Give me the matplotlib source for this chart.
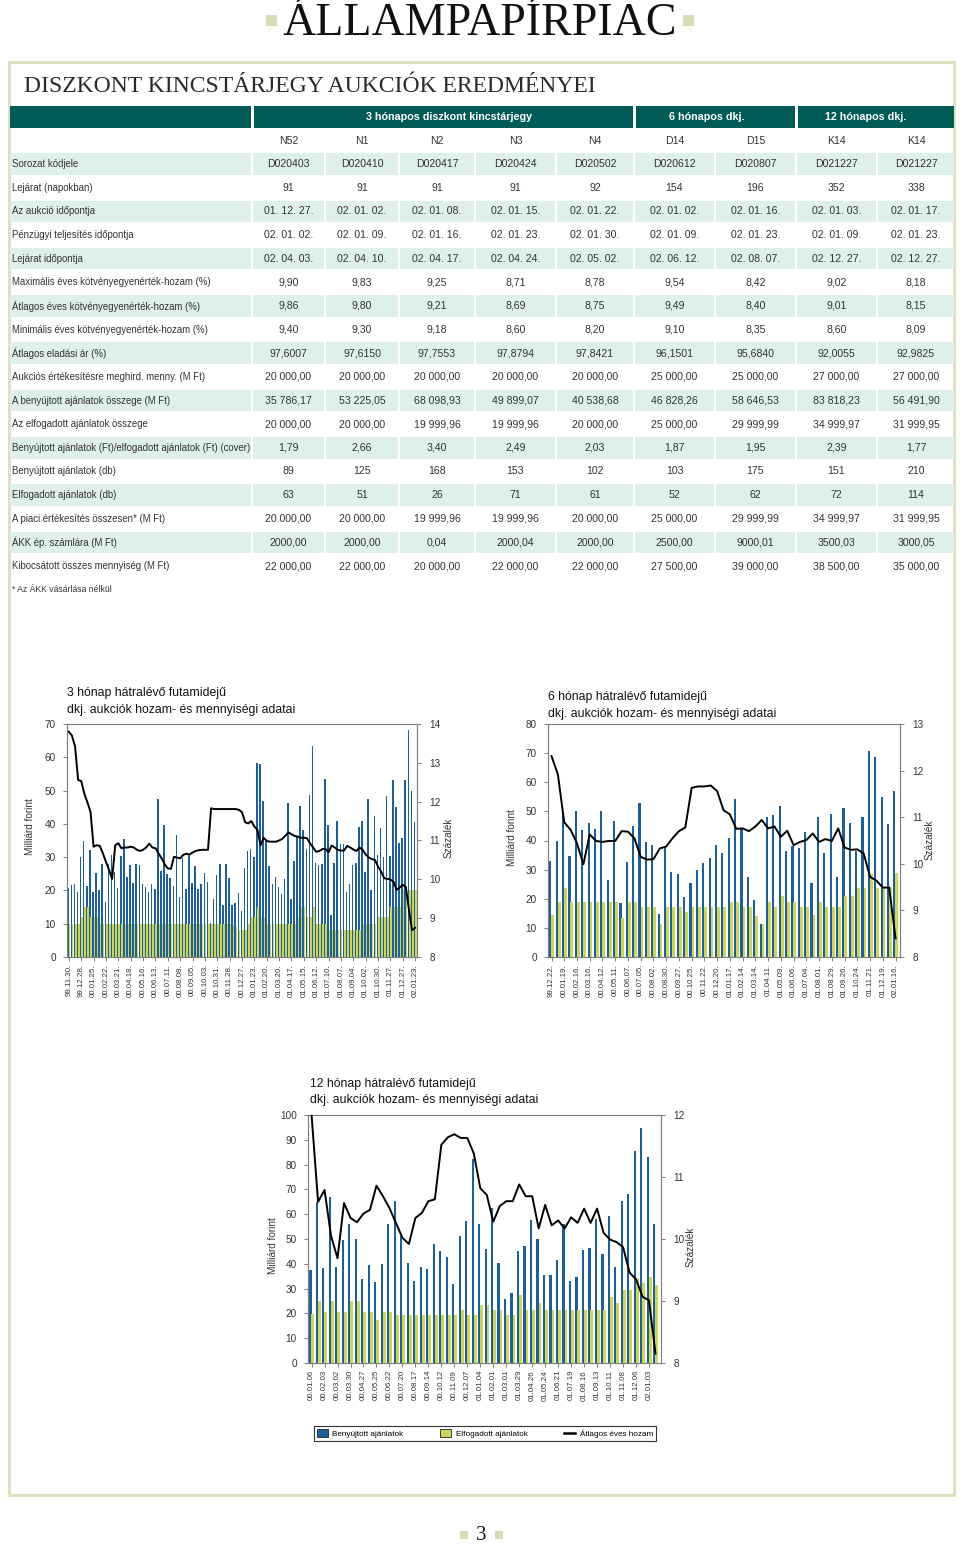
import numpy as np
import matplotlib
matplotlib.use('Agg')
import matplotlib.pyplot as plt
from matplotlib import font_manager as fm
from matplotlib.patches import Rectangle, Patch
from matplotlib.lines import Line2D

# ---------------- DATA ----------------
col_groups = ["3 hónapos diszkont kincstárjegy", "6 hónapos dkj.", "12 hónapos dkj."]
col_codes = ["N52", "N1", "N2", "N3", "N4", "D14", "D15", "K14", "K14"]
row_labels = [
    "Sorozat kódjele",
    "Lejárat (napokban)",
    "Az aukció időpontja",
    "Pénzügyi teljesítés időpontja",
    "Lejárat időpontja",
    "Maximális éves kötvényegyenérték-hozam (%)",
    "Átlagos éves kötvényegyenérték-hozam (%)",
    "Minimális éves kötvényegyenérték-hozam (%)",
    "Átlagos eladási ár (%)",
    "Aukciós értékesítésre meghird. menny. (M Ft)",
    "A benyújtott ajánlatok összege (M Ft)",
    "Az elfogadott ajánlatok összege",
    "Benyújtott ajánlatok (Ft)/elfogadott ajánlatok (Ft) (cover)",
    "Benyújtott ajánlatok (db)",
    "Elfogadott ajánlatok (db)",
    "A piaci értékesítés összesen* (M Ft)",
    "ÁKK ép. számlára (M Ft)",
    "Kibocsátott összes mennyiség (M Ft)",
]
row_values = [
    ["D020403", "D020410", "D020417", "D020424", "D020502", "D020612", "D020807", "D021227", "D021227"],
    ["91", "91", "91", "91", "92", "154", "196", "352", "338"],
    ["01. 12. 27.", "02. 01. 02.", "02. 01. 08.", "02. 01. 15.", "02. 01. 22.", "02. 01. 02.", "02. 01. 16.", "02. 01. 03.", "02. 01. 17."],
    ["02. 01. 02.", "02. 01. 09.", "02. 01. 16.", "02. 01. 23.", "02. 01. 30.", "02. 01. 09.", "02. 01. 23.", "02. 01. 09.", "02. 01. 23."],
    ["02. 04. 03.", "02. 04. 10.", "02. 04. 17.", "02. 04. 24.", "02. 05. 02.", "02. 06. 12.", "02. 08. 07.", "02. 12. 27.", "02. 12. 27."],
    ["9,90", "9,83", "9,25", "8,71", "8,78", "9,54", "8,42", "9,02", "8,18"],
    ["9,86", "9,80", "9,21", "8,69", "8,75", "9,49", "8,40", "9,01", "8,15"],
    ["9,40", "9,30", "9,18", "8,60", "8,20", "9,10", "8,35", "8,60", "8,09"],
    ["97,6007", "97,6150", "97,7553", "97,8794", "97,8421", "96,1501", "95,6840", "92,0055", "92,9825"],
    ["20 000,00", "20 000,00", "20 000,00", "20 000,00", "20 000,00", "25 000,00", "25 000,00", "27 000,00", "27 000,00"],
    ["35 786,17", "53 225,05", "68 098,93", "49 899,07", "40 538,68", "46 828,26", "58 646,53", "83 818,23", "56 491,90"],
    ["20 000,00", "20 000,00", "19 999,96", "19 999,96", "20 000,00", "25 000,00", "29 999,99", "34 999,97", "31 999,95"],
    ["1,79", "2,66", "3,40", "2,49", "2,03", "1,87", "1,95", "2,39", "1,77"],
    ["89", "125", "168", "153", "102", "103", "175", "151", "210"],
    ["63", "51", "26", "71", "61", "52", "62", "72", "114"],
    ["20 000,00", "20 000,00", "19 999,96", "19 999,96", "20 000,00", "25 000,00", "29 999,99", "34 999,97", "31 999,95"],
    ["2000,00", "2000,00", "0,04", "2000,04", "2000,00", "2500,00", "9000,01", "3500,03", "3000,05"],
    ["22 000,00", "22 000,00", "20 000,00", "22 000,00", "22 000,00", "27 500,00", "39 000,00", "38 500,00", "35 000,00"],
]

# Chart 1: 3 months (weekly auctions)
c1_labels = ['99.11.30.', '99.12.28.', '00.01.25.', '00.02.22.', '00.03.21.', '00.04.18.', '00.05.16.',
             '00.06.13.', '00.07.11.', '00.08.08.', '00.09.05.', '00.10.03.', '00.10.31.', '00.11.28.',
             '00.12.27.', '01.01.23.', '01.02.20.', '01.03.20.', '01.04.17.', '01.05.15.', '01.06.12.',
             '01.07.10.', '01.08.07.', '01.09.04.', '01.10.02.', '01.10.30.', '01.11.27.', '01.12.27.',
             '02.01.23.']
c1_submitted = [20.6, 21.6, 22.0, 19.5, 30.0, 35.0, 21.3, 32.2, 19.4, 25.3, 20.0, 27.8, 16.6,
                28.0, 30.5, 25.6, 20.6, 30.4, 35.6, 24.0, 27.6, 22.1, 28.0, 27.6, 21.8, 21.0, 19.4, 21.8, 20.4, 47.5,
                25.7, 39.7, 25.0, 23.7, 21.3, 36.6, 17.9, 29.6, 20.4, 30.7, 22.2, 27.2, 20.3, 21.8, 25.3, 22.5,
                10.3, 17.5, 24.5, 27.8, 15.7, 27.8, 23.8, 15.7, 16.1, 19.1, 13.8,
                26.8, 31.8, 32.3, 29.9, 58.4, 57.9, 46.8,
                35.0, 27.4, 21.8, 23.9, 20.9, 18.9, 23.4, 46.2, 17.3, 28.9, 36.5,
                45.3, 38.2, 32.3, 48.7, 63.3, 28.2, 27.7, 27.8, 53.5, 39.7, 12.5, 28.3, 41.0, 34.0, 33.8,
                19.5, 21.8, 27.5, 28.3, 39.2, 41.0, 25.5, 47.5, 20.0, 42.5, 30.5, 38.8, 30.0, 48.5, 30.2, 53.3, 45.0, 34.2,
                35.8, 53.2, 68.1, 49.9, 40.5]
c1_accepted = [10, 10, 10, 10, 12, 15, 15, 12, 12, 12, 10, 10,
               10, 10, 10, 10, 10, 10, 10, 10, 10, 10, 10, 10, 10, 10, 10, 10, 10,
               10, 10, 10, 10, 10, 10, 10, 10, 10, 10, 10, 10, 10, 10, 10, 10, 10,
               10,
               10, 10, 10, 10, 10, 10, 9.5, 9, 8,
               8,
               8, 10, 12, 12, 15, 12, 12,
               10, 10, 10, 10, 10, 10, 10, 10, 10, 10,
               12, 15, 15, 12, 12, 15,
               10, 10, 10, 10,
               8, 8, 8, 8, 8, 8, 8, 8, 8, 8, 8,
               10, 10, 10, 10, 10,
               12, 12, 12, 12,
               15, 15, 15, 15,
               20, 20, 20, 20, 20]
c1_yield = [13.80, 13.70, 13.42, 12.56, 12.53, 12.21, 11.98, 11.74, 10.84, 10.88, 10.86, 10.67, 10.45, 10.24, 10.01,
            10.88, 10.93, 10.80, 10.82, 10.82, 10.84, 10.82, 10.76, 10.73, 10.76, 10.82, 10.92, 10.82, 10.80, 10.67,
            10.54, 10.39, 10.28, 10.27, 10.58, 10.56, 10.54, 10.63, 10.66, 10.64, 10.69, 10.73, 10.75, 10.76, 10.76, 10.76,
            11.83, 11.81, 11.81, 11.81, 11.81, 11.81, 11.81, 11.81, 11.81, 11.79, 11.73,
            11.47, 11.44, 11.50, 11.36, 11.27, 10.88, 11.07, 10.99, 10.97, 10.97, 10.97, 11.00, 11.04, 11.12,
            11.21, 11.16, 11.12, 11.10, 11.07, 11.07, 11.06, 10.93, 10.82, 10.71, 10.73, 10.78, 10.78, 10.70,
            10.87, 10.82, 10.76, 10.74, 10.74, 10.86, 10.82, 10.77, 10.73, 10.82, 10.76, 10.64, 10.56, 10.52,
            10.50, 10.33, 10.20, 10.03, 10.01, 10.00, 9.94, 9.73, 9.79, 9.86, 9.80, 9.21, 8.69, 8.75]

# Chart 2: 6 months (biweekly)
c2_labels = ['99.12.22.', '00.01.19.', '00.02.16.', '00.03.16.', '00.04.12.', '00.05.11.', '00.06.07.',
             '00.07.05.', '00.08.02.', '00.08.30.', '00.09.27.', '00.10.25.', '00.11.22.', '00.12.20.',
             '01.01.17.', '01.02.14.', '01.03.14.', '01.04.11.', '01.05.09.', '01.06.06.', '01.07.04.',
             '01.08.01.', '01.08.29.', '01.09.26.', '01.10.24.', '01.11.21.', '01.12.19.', '02.01.16.']
c2_submitted = [33.0, 39.7, 49.9, 34.6, 50.0, 43.7, 46.1, 44.0, 50.0, 26.5, 46.8, 18.6, 32.7, 45.0, 52.9,
                39.4, 38.6, 14.6, 37.9, 29.1, 28.6, 20.6, 25.4, 29.7, 32.3, 34.1, 38.6, 35.8, 40.8, 54.3,
                44.2, 27.3, 19.5, 11.2, 48.0, 48.9, 52.0, 36.5, 38.0, 37.3, 42.8, 25.3, 48.0, 35.8, 49.2,
                27.3, 51.3, 46.1, 36.5, 48.0, 70.7, 68.6, 54.8, 45.8, 57.0]
c2_accepted = [14.3, 19.0, 23.8, 19.0, 19.0, 19.0, 19.0, 19.0, 19.0, 19.0, 19.0, 13.5, 19.0, 19.0, 17.0,
               17.0, 17.0, 11.4, 17.0, 17.0, 17.0, 15.6, 17.0, 17.0, 17.0, 17.0, 17.0, 17.0, 19.0, 19.0,
               17.0, 17.0, 14.1, 11.2, 19.0, 17.0, 20.9, 19.0, 19.0, 17.0, 17.0, 14.3, 19.0, 17.0, 17.0,
               17.0, 20.9, 20.9, 23.8, 23.8, 28.6, 23.8, 23.8, 24.2, 29.0]
c2_yield = [12.31, 11.92, 10.89, 10.73, 10.44, 9.99, 10.63, 10.49, 10.47, 10.49, 10.49, 10.70, 10.69, 10.55,
            10.15, 10.09, 10.10, 10.33, 10.37, 10.55, 10.70, 10.78, 11.63, 11.66, 11.66, 11.68, 11.56, 11.15,
            11.06, 10.75, 10.76, 10.70, 10.80, 10.94, 10.76, 10.80, 10.58, 10.71, 10.40, 10.47, 10.51, 10.65,
            10.47, 10.53, 10.49, 10.76, 10.35, 10.30, 10.31, 10.22, 9.72, 9.64, 9.49, 9.49, 8.40]

# Chart 3: 12 months (biweekly)
c3_labels = ['00.01.06', '00.02.03', '00.03.02', '00.03.30', '00.04.27', '00.05.25', '00.06.22', '00.07.20',
             '00.08.17', '00.09.14', '00.10.12', '00.11.09', '00.12.07', '01.01.04', '01.02.01', '01.03.01',
             '01.03.29', '01.04.26', '01.05.24', '01.06.21', '01.07.19', '01.08.16', '01.09.13', '01.10.11',
             '01.11.08', '01.12.06', '02.01.03']
c3_submitted = [37.3, 64.9, 38.2, 67.0, 38.7, 49.5, 56.2, 49.9, 33.7, 39.6, 32.8, 40.0, 56.2, 65.3, 51.2,
                40.4, 33.2, 38.7, 37.8, 48.0, 45.1, 42.7, 31.9, 51.3, 57.2, 82.3, 56.2, 45.9, 62.4, 40.4,
                26.0, 28.2, 45.0, 47.1, 57.6, 50.2, 35.5, 35.5, 41.4, 56.2, 33.1, 34.5, 45.4, 46.2, 58.1,
                44.0, 59.3, 38.7, 65.3, 68.0, 85.5, 94.6, 83.0, 56.0]
c3_accepted = [19.9, 25.0, 20.6, 25.0, 20.6, 20.6, 25.0, 25.0, 20.6, 20.6, 17.3, 20.6, 20.6, 19.3, 19.3,
               19.3, 19.3, 19.3, 19.3, 19.3, 19.3, 19.3, 19.3, 21.3, 19.3, 19.3, 23.3, 23.3, 21.3, 21.3,
               19.3, 19.3, 27.3, 21.3, 21.3, 24.0, 21.3, 21.3, 21.3, 21.3, 21.3, 21.3, 21.3, 21.3, 21.3,
               21.3, 26.6, 24.0, 29.3, 29.3, 34.4, 32.4, 34.6, 31.6]
c3_yield = [12.0, 10.60, 10.79, 10.05, 9.69, 10.58, 10.34, 10.27, 10.41, 10.47, 10.86, 10.69, 10.50, 10.26,
            10.02, 9.92, 10.34, 10.42, 10.61, 10.64, 11.52, 11.64, 11.69, 11.63, 11.63, 11.38, 10.82, 10.71,
            10.28, 10.53, 10.61, 10.61, 10.88, 10.69, 10.69, 10.17, 10.55, 10.22, 10.30, 10.17, 10.35, 10.26,
            10.49, 10.26, 10.49, 10.10, 9.99, 9.95, 9.87, 9.46, 9.35, 9.07, 9.01, 8.15]

legend_labels = ["Benyújtott ajánlatok", "Elfogadott ajánlatok", "Átlagos éves hozam"]

# ---------------- STYLE ----------------
W, H = 960, 1545
names = {f.name for f in fm.fontManager.ttflist}
if 'Liberation Sans Narrow' in names:
    NF = {'family': 'Liberation Sans Narrow'}
    K = 1.0
else:
    NF = {'family': 'Liberation Sans' if 'Liberation Sans' in names else 'DejaVu Sans'}
    K = 0.84
SERIF = 'Liberation Serif' if 'Liberation Serif' in names else 'DejaVu Serif'

BLUE = '#1f5f98'
GREEN = '#cdd55e'
TEAL = '#005b57'
SHADE = '#dfefeb'
BEIGE = '#d9dcb6'
TXT = '#333333'
SPINE = '#808080'

fig = plt.figure(figsize=(W / 100, H / 100), dpi=100)
bg = fig.add_axes([0, 0, 1, 1])
bg.set_xlim(0, W)
bg.set_ylim(H, 0)
bg.axis('off')

# frame & page title
bg.add_patch(Rectangle((9, 62), 945, 1433, fill=False, ec='#dde1c1', lw=2.2))
bg.text(480, 24, 'ÁLLAMPAPÍRPIAC', ha='center', va='center', family=SERIF, fontsize=33, color='#111111')
bg.add_patch(Rectangle((266, 15), 11, 11, fc=BEIGE, ec='none'))
bg.add_patch(Rectangle((683, 15), 11, 11, fc=BEIGE, ec='none'))
bg.text(24, 86, 'DISZKONT KINCSTÁRJEGY AUKCIÓK EREDMÉNYEI', ha='left', va='center',
        family=SERIF, fontsize=17, color='#2a2a2a')

# ---------------- TABLE ----------------
bounds = [252, 325, 399, 475, 556, 634, 715, 796, 877, 955]
centers = [(bounds[i] + bounds[i + 1]) / 2 for i in range(9)]
group_spans = [(0, 5), (5, 7), (7, 9)]
group_text_x = [449, 707, 866]

bg.add_patch(Rectangle((10, 106), 241, 22, fc=TEAL, ec='none'))
for (a, b), gx, gt in zip(group_spans, group_text_x, col_groups):
    bg.add_patch(Rectangle((bounds[a] + 1.5, 106), bounds[b] - bounds[a] - 3, 22, fc=TEAL, ec='none'))
    bg.text(gx, 117.5, gt, ha='center', va='center', color='white', fontsize=9.2 * K,
            fontweight='bold', **NF)

for c, code in zip(centers, col_codes):
    bg.text(c, 141, code, ha='center', va='center', color=TXT, fontsize=9.0 * K, **NF)

row_h = 23.65
for i, (lab, vals) in enumerate(zip(row_labels, row_values)):
    yc = 164 + i * row_h
    if i % 2 == 0:
        bg.add_patch(Rectangle((10, yc - 10.8), 240.5, 21.6, fc=SHADE, ec='none'))
        for j in range(9):
            bg.add_patch(Rectangle((bounds[j] + 1, yc - 10.8), bounds[j + 1] - bounds[j] - 2, 21.6,
                                   fc=SHADE, ec='none'))
    bg.text(12, yc, lab, ha='left', va='center', color=TXT, fontsize=8.3 * K, **NF)
    for c, v in zip(centers, vals):
        bg.text(c, yc, v, ha='center', va='center', color=TXT, fontsize=9.0 * K, **NF)

bg.text(12, 590, '* Az ÁKK vásárlása nélkül', ha='left', va='center', color=TXT, fontsize=7.4 * K, **NF)


# ---------------- CHARTS ----------------
def chart(px, sub, acc, yld, labels, step, ymax_l, ylim_r, xlim, bw, title, title_xy,
          ylab_xy, rlab_xy):
    x0, y0, x1, y1 = px
    ax = fig.add_axes([x0 / W, 1 - y1 / H, (x1 - x0) / W, (y1 - y0) / H])
    n = len(sub)
    x = np.arange(n)
    ax.bar(x - bw[0], sub, width=bw[1], color=BLUE, lw=0, zorder=2)
    ax.bar(x + bw[2], acc, width=bw[3], color=GREEN, lw=0, zorder=3)
    ax.set_xlim(*xlim)
    ax.set_ylim(0, ymax_l)
    ax.set_yticks(np.arange(0, ymax_l + 1, 10))
    ax.set_xticks(x[::step])
    ax.set_xticklabels(labels, rotation=90, fontsize=6.8 * K, color=TXT, **NF)
    for t in ax.get_yticklabels():
        t.set_fontsize(7.2)
        t.set_color(TXT)
        t.set_family(NF['family'])
    ax.tick_params(axis='both', colors=SPINE, labelcolor=TXT, length=3, width=0.7, pad=2)
    ax.tick_params(axis='y', pad=5)
    for s in ax.spines.values():
        s.set_color(SPINE)
        s.set_linewidth(0.8)
    axr = ax.twinx()
    axr.plot(x, yld, color='black', lw=1.4, zorder=5)
    axr.set_ylim(*ylim_r)
    axr.set_yticks(np.arange(ylim_r[0], ylim_r[1] + 0.5, 1))
    axr.set_xlim(*xlim)
    for t in axr.get_yticklabels():
        t.set_fontsize(7.2)
        t.set_color(TXT)
        t.set_family(NF['family'])
    axr.tick_params(axis='y', colors=SPINE, labelcolor=TXT, length=3, width=0.7, pad=6)
    for s in axr.spines.values():
        s.set_color(SPINE)
        s.set_linewidth(0.8)
    bg.text(title_xy[0], title_xy[1], title[0], ha='left', va='center', color='#111111',
            fontsize=10.5 * K, **NF)
    bg.text(title_xy[0], title_xy[1] + 16.5, title[1], ha='left', va='center', color='#111111',
            fontsize=10.5 * K, **NF)
    bg.text(ylab_xy[0], ylab_xy[1], 'Milliárd forint', rotation=90, ha='center', va='center',
            color=TXT, fontsize=8.6 * K, **NF)
    bg.text(rlab_xy[0], rlab_xy[1], 'Százalék', rotation=90, ha='center', va='center',
            color=TXT, fontsize=8.6 * K, **NF)
    return ax


chart((67, 724, 417, 957), c1_submitted, c1_accepted, c1_yield, c1_labels, 4, 70, (8, 14),
      (-0.6, 112.6), (0.2, 0.5, 0.25, 0.5),
      ("3 hónap hátralévő futamidejű", "dkj. aukciók hozam- és mennyiségi adatai"), (67, 693),
      (30, 827), (449, 838))
chart((548, 724, 900, 957), c2_submitted, c2_accepted, c2_yield, c2_labels, 2, 80, (8, 13),
      (-0.55, 54.7), (0.18, 0.34, 0.2, 0.44),
      ("6 hónap hátralévő futamidejű", "dkj. aukciók hozam- és mennyiségi adatai"), (548, 697),
      (512, 838), (930, 840))
chart((308, 1115, 661, 1363), c3_submitted, c3_accepted, c3_yield, c3_labels, 2, 100, (8, 12),
      (-0.55, 53.85), (0.18, 0.34, 0.2, 0.44),
      ("12 hónap hátralévő futamidejű", "dkj. aukciók hozam- és mennyiségi adatai"), (310, 1084),
      (273, 1246), (691, 1247))

handles = [Patch(facecolor=BLUE, edgecolor='#222222', lw=0.6),
           Patch(facecolor=GREEN, edgecolor='#222222', lw=0.6),
           Line2D([], [], color='black', lw=1.8)]
leg = fig.legend(handles, legend_labels, loc='center', ncol=3, mode='expand',
                 bbox_to_anchor=(310 / W, 1 - 1443 / H, 350 / W, 19 / H),
                 prop={'family': NF['family'], 'size': 7.0 * K}, frameon=True, fancybox=False,
                 edgecolor='#333333', framealpha=1, handlelength=1.3, handleheight=1.1,
                 borderpad=0.35, handletextpad=0.6, columnspacing=1.0)
leg.get_frame().set_linewidth(0.8)

# page number
bg.text(481, 1536, '3', ha='center', va='center', family=SERIF, fontsize=15, color='#111111')
bg.add_patch(Rectangle((460, 1531), 8, 8, fc=BEIGE, ec='none'))
bg.add_patch(Rectangle((495, 1531), 8, 8, fc=BEIGE, ec='none'))

fig.savefig('out.png', dpi=100)
